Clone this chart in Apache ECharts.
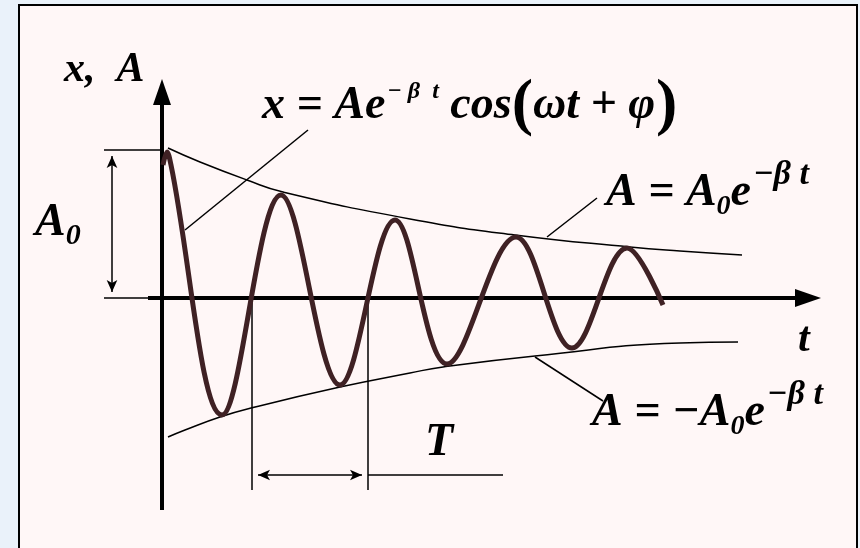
<!DOCTYPE html>
<html>
<head>
<meta charset="utf-8">
<script src="https://cdn.jsdelivr.net/npm/echarts@6/dist/echarts.min.js"></script>
<style>
html, body { margin: 0; padding: 0; background: #eaf2fa; }
#chart { width: 860px; height: 548px; }
</style>
</head>
<body>
<div id="chart"></div>
<script>
// damped oscillation: t to the right, x upwards (axis origin at 0,0)
// start, first peak, then every trough / peak, end of the drawn curve
const curveT = [1, 5, 9, 60, 119, 178, 233, 285, 354, 410, 465, 501]
const curveX = [133, 146, 133, -117, 103, -87, 78, -66, 61, -50, 50, -7]

// envelopes A0 e^(-bt) and -A0 e^(-bt)
const upperT = [6, 38, 85, 121, 248, 353, 468, 518, 580]
const upperX = [150, 136, 118, 106, 79, 63, 51, 47, 43]
const lowerT = [6, 23, 58, 89, 178, 248, 281, 373, 518, 576]
const lowerX = [-139, -132, -119, -110, -89, -75, -69, -58, -45, -44]

const FONT = '"Liberation Serif", "Times New Roman", serif'
const measure = document.createElement('canvas').getContext('2d')

// lays out a formula piece by piece, x0/baseline in pixels
const formula = (x0, base, parts) => {
  let x = x0
  return parts.map(p => {
    const font = `${p.style || 'italic bold'} ${p.size}px ${FONT}`
    measure.font = font
    const el = {
      type: 'text',
      z: 100,
      x: x,
      y: base + (p.dy || 0) - 0.32 * p.size,
      style: { text: p.text, font: font, fill: '#000', verticalAlign: 'middle' }
    }
    x += measure.measureText(p.text).width + (p.gap || 0)
    return el
  })
}

// straight segment for markLine, optional arrow heads
const seg = (a, b, width, s1, s2, size) => {
  const ls = { width: width, color: '#000', type: 'solid' }
  return [
    { coord: a, symbol: s1 || 'none', symbolSize: size || 10, lineStyle: ls },
    { coord: b, symbol: s2 || 'none', symbolSize: size || 10, lineStyle: ls }
  ]
}

const toPairs = (ts, xs) => ts.map((t, i) => [t, xs[i]])

const chart = echarts.init(document.getElementById('chart'))

chart.setOption({
  animation: false,
  backgroundColor: '#eaf2fa',
  grid: { left: 0, right: 0, top: 0, bottom: 0 },
  xAxis: { type: 'value', min: -162, max: 698, show: false },
  yAxis: { type: 'value', min: -250, max: 298, show: false },
  graphic: [
    {
      type: 'rect',
      z: 0,
      shape: { x: 19, y: 5, width: 838, height: 570 },
      style: { fill: '#fff7f7', stroke: '#000', lineWidth: 2 }
    },
    ...formula(64, 84, [{ text: 'x,  A', size: 42 }]),
    ...formula(262, 121, [
      { text: 'x = Ae', size: 46, gap: 2 },
      { text: '− β  t', size: 24, dy: -22 },
      { text: ' cos', size: 46 },
      { text: '(', size: 64, style: 'bold', dy: 6 },
      { text: 'ωt + φ', size: 46, gap: 1 },
      { text: ')', size: 64, style: 'bold', dy: 6 }
    ]),
    ...formula(606, 208, [
      { text: 'A = A', size: 46 },
      { text: '0', size: 28, dy: 8 },
      { text: 'e', size: 46, gap: 2 },
      { text: '−β t', size: 34, dy: -22 }
    ]),
    ...formula(592, 428, [
      { text: 'A = −A', size: 46 },
      { text: '0', size: 28, dy: 8 },
      { text: 'e', size: 46, gap: 2 },
      { text: '−β t', size: 34, dy: -22 }
    ]),
    ...formula(35, 238, [
      { text: 'A', size: 46 },
      { text: '0', size: 30, dy: 8 }
    ]),
    ...formula(798, 354, [{ text: 't', size: 42 }]),
    ...formula(425, 458, [{ text: 'T', size: 46 }])
  ],
  series: [
    {
      name: 'upper',
      type: 'line',
      data: toPairs(upperT, upperX),
      smooth: true,
      symbol: 'none',
      lineStyle: { color: '#000', width: 1.5 },
      z: 3
    },
    {
      name: 'lower',
      type: 'line',
      data: toPairs(lowerT, lowerX),
      smooth: true,
      symbol: 'none',
      lineStyle: { color: '#000', width: 1.5 },
      z: 3
    },
    {
      name: 'guides',
      type: 'line',
      data: [],
      z: 4,
      markLine: {
        silent: true,
        animation: false,
        symbol: ['none', 'none'],
        label: { show: false },
        data: [
          // axes
          seg([0, -212], [0, 206], 4, 'none', 'triangle', [18, 26]),
          seg([-14, 0], [646, 0], 4, 'none', 'triangle', [18, 26]),
          // A0 dimension
          seg([-58, 148], [0, 148], 1.5),
          seg([-58, 0], [-14, 0], 1.5),
          seg([-50, 142], [-50, 6], 1.5, 'arrow', 'arrow', [8, 12]),
          // period T
          seg([90, 0], [90, -192], 1.5),
          seg([206, 0], [206, -192], 1.5),
          seg([96, -177], [200, -177], 1.5, 'arrow', 'arrow', [8, 12]),
          seg([206, -177], [341, -177], 1.5),
          // leader lines to the formulas
          seg([23, 68], [146, 168], 1.5),
          seg([385, 61], [435, 100], 1.5),
          seg([373, -59], [441, -103], 1.5)
        ]
      }
    },
    {
      name: 'x',
      type: 'line',
      data: toPairs(curveT, curveX),
      smooth: 0.36,
      symbol: 'none',
      lineStyle: { color: '#3f2124', width: 5 },
      z: 5
    }
  ]
})
</script>
</body>
</html>
